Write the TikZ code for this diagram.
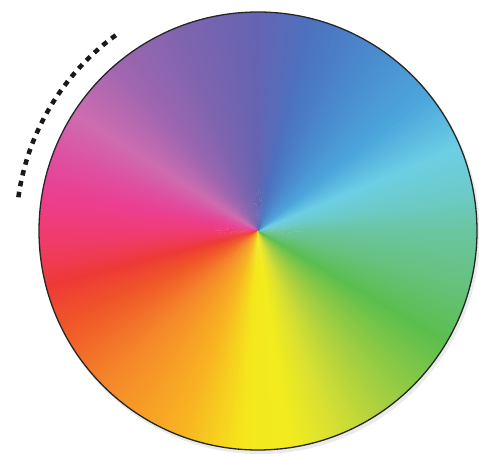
\documentclass[tikz,border=0pt]{standalone}
\usepackage{tikz}
\usetikzlibrary{calc}
\definecolor{s0}{HTML}{6AC6A2}
\definecolor{s1}{HTML}{6CCBC8}
\definecolor{s2}{HTML}{6CCFE4}
\definecolor{s3}{HTML}{4CA6DC}
\definecolor{s4}{HTML}{4A8ED0}
\definecolor{s5}{HTML}{4C72C0}
\definecolor{s6}{HTML}{6664B2}
\definecolor{s7}{HTML}{7E64B0}
\definecolor{s8}{HTML}{A066B0}
\definecolor{s9}{HTML}{CE6CB0}
\definecolor{s10}{HTML}{E04EA0}
\definecolor{s11}{HTML}{EC3E8E}
\definecolor{s12}{HTML}{F03C6C}
\definecolor{s13}{HTML}{EE3A36}
\definecolor{s14}{HTML}{F05A28}
\definecolor{s15}{HTML}{F5882A}
\definecolor{s16}{HTML}{F8B422}
\definecolor{s17}{HTML}{F4E81C}
\definecolor{s18}{HTML}{F2EC1E}
\definecolor{s19}{HTML}{D8E032}
\definecolor{s20}{HTML}{A8D040}
\definecolor{s21}{HTML}{5ABE4E}
\definecolor{s22}{HTML}{66C27E}
\tikzset{
  rim/.style={draw=black!85, line width=1.3pt},
  tickarc/.style={draw=black!90, line width=4.5pt, dash pattern=on 5.5pt off 5.6pt},
}
\begin{document}
\begin{tikzpicture}[x=1pt,y=1pt]
\fill[white] (0,0) rectangle (479,455);
\useasboundingbox (0,0) rectangle (479,455);
\coordinate (C) at (258pt,224pt);
% faint shadow
\fill[black, opacity=0.08] (260pt,221pt) circle[radius=220pt];
% conic gradient
\foreach \a/\b/\ca/\cb in {0/10/s0/s1, 10/22/s1/s2, 22/38/s2/s3, 38/55/s3/s4, 55/75/s4/s5, 75/90/s5/s6, 90/110/s6/s7, 110/130/s7/s8, 130/147/s8/s9, 147/160/s9/s10, 160/170/s10/s11, 170/182/s11/s12, 182/194/s12/s13, 194/207/s13/s14, 207/225/s14/s15, 225/249/s15/s16, 249/266/s16/s17, 266/278/s17/s18, 278/290/s18/s19, 290/305/s19/s20, 305/329/s20/s21, 329/345/s21/s22, 345/360/s22/s0}{
  \pgfmathtruncatemacro\n{\b-\a-1}
  \foreach \i in {0,...,\n}{
    \pgfmathtruncatemacro\p{100*\i/(\b-\a)}
    \pgfmathsetmacro\ang{\a+\i}
    \fill[\cb!\p!\ca] (C) -- ++(\ang:219pt) arc[start angle=\ang, end angle=\ang+1.6, radius=219pt] -- cycle;
  }
}
\node[circle, minimum size=438pt, inner sep=0pt, rim] (wheel) at (C) {};
\coordinate (arcstart) at ($(C)+(126:242pt)$);
\draw[tickarc] (arcstart) arc[start angle=126, end angle=172.5, radius=242pt];
\end{tikzpicture}
\end{document}
